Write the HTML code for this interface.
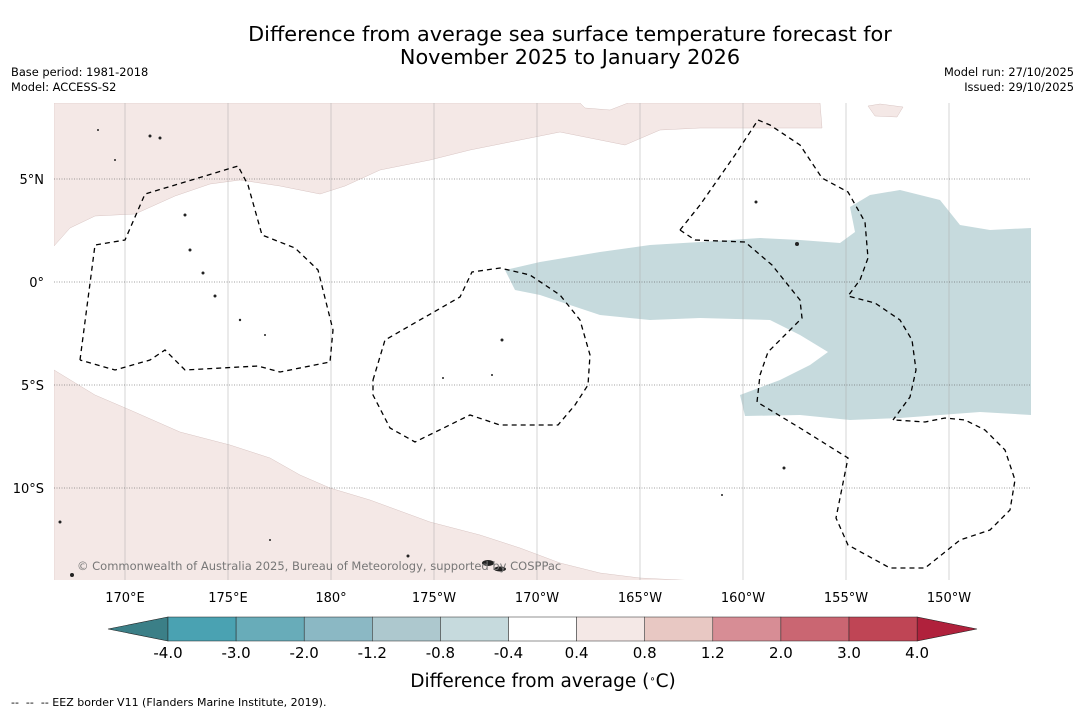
<!DOCTYPE html>
<html><head><meta charset="utf-8"><style>
body{margin:0;background:#fff;font-family:"Liberation Sans",sans-serif;}
svg text{font-family:"DejaVu Sans","Liberation Sans",sans-serif;}
</style></head><body>
<svg id="chart" width="1085" height="713" xmlns="http://www.w3.org/2000/svg">
<rect width="1085" height="713" fill="#fff"/>
<text x="570" y="41" font-size="20.8" text-anchor="middle">Difference from average sea surface temperature forecast for</text>
<text x="570" y="64" font-size="20.8" text-anchor="middle">November 2025 to January 2026</text>
<text x="11" y="76" font-size="11.4">Base period: 1981-2018</text>
<text x="11" y="91" font-size="11.4">Model: ACCESS-S2</text>
<text x="1074" y="76" font-size="11.4" text-anchor="end">Model run: 27/10/2025</text>
<text x="1074" y="91" font-size="11.4" text-anchor="end">Issued: 29/10/2025</text>
<g id="map">
<clipPath id="mc"><rect x="54" y="103" width="977" height="477"/></clipPath>
<g clip-path="url(#mc)">
<path fill="#f4e8e6" stroke="#d8c4c2" stroke-width="0.5" d="M54,103 L580,103 L585,108 L610,110 L628,103 L820,103 L822,128 L780,128 L700,128 L660,130 L625,145 L560,132 L520,140 L470,150 L430,160 L380,170 L345,186 L320,194 L280,186 L240,180 L210,184 L175,196 L135,214 L95,216 L70,228 L54,246 Z"/>
<path fill="#f4e8e6" stroke="#d8c4c2" stroke-width="0.5" d="M868,106 L880,104 L903,107 L897,117 L875,116 Z"/>
<path fill="#f4e8e6" stroke="#d8c4c2" stroke-width="0.5" d="M54,370 L95,395 L130,410 L180,432 L230,445 L270,458 L300,475 L330,488 L370,500 L430,522 L480,535 L520,548 L560,563 L600,573 L640,578 L700,581 L54,581 Z"/>
<path fill="#c6dadd" d="M505,270 L540,262 L600,252 L650,245 L700,242 L760,238 L800,240 L840,243 L855,232 L850,207 L870,195 L900,190 L940,200 L960,225 L990,230 L1031,228 L1031,415 L980,412 L900,418 L850,420 L800,415 L745,416 L740,395 L780,380 L810,365 L828,352 L800,335 L770,320 L700,318 L650,320 L600,315 L570,305 L540,295 L515,290 Z"/>
</g>
<g id="grid"></g>
<g fill="none" stroke="#000" stroke-width="1.3" stroke-dasharray="5,4">
<polyline points="80,360 95,245 125,240 145,194 185,182 238,166 248,185 262,235 295,248 318,270 328,310 333,330 330,362 280,372 258,366 185,370 165,350 150,360 115,370 80,360"/>
<polyline points="373,380 385,340 460,297 472,272 500,268 530,275 560,295 580,320 590,355 588,385 575,405 558,425 500,425 470,415 415,442 390,428 373,395 373,380"/>
<polyline points="680,230 700,205 735,155 758,120 770,125 800,145 822,178 848,192 865,222 868,258 860,280 848,296 875,303 900,320 912,340 916,370 910,397 893,420"/>
<polyline points="680,230 695,240 745,242 772,265 800,300 802,318 785,335 768,352 760,375 757,402 800,428 848,458 836,518 848,545 890,568 925,568 960,540 990,530 1010,510 1015,480 1005,450 985,430 965,420 945,418 925,422 895,420"/>
</g>
<g fill="#222">
<circle cx="150" cy="136" r="1.5"/><circle cx="160" cy="138" r="1.5"/><circle cx="98" cy="130" r="1"/><circle cx="115" cy="160" r="1"/><circle cx="185" cy="215" r="1.5"/><circle cx="190" cy="250" r="1.5"/><circle cx="203" cy="273" r="1.5"/><circle cx="215" cy="296" r="1.5"/><circle cx="240" cy="320" r="1.2"/><circle cx="265" cy="335" r="1"/><circle cx="502" cy="340" r="1.5"/><circle cx="492" cy="375" r="1"/><circle cx="443" cy="378" r="1"/><circle cx="756" cy="202" r="1.5"/><circle cx="797" cy="244" r="2"/><circle cx="784" cy="468" r="1.5"/><circle cx="722" cy="495" r="1"/><circle cx="60" cy="522" r="1.5"/><circle cx="72" cy="575" r="2"/><ellipse cx="488" cy="563" rx="6" ry="3"/><ellipse cx="500" cy="569" rx="6" ry="2.5"/><circle cx="270" cy="540" r="1"/><circle cx="408" cy="556" r="1.5"/></g>
<text x="77" y="570" font-size="11.5" fill="#777">© Commonwealth of Australia 2025, Bureau of Meteorology, supported by COSPPac</text>
<g id="axes"></g>
</g>
<g id="cbar"></g>
<text x="543" y="687" font-size="18.5" text-anchor="middle">Difference from average (<tspan baseline-shift="super" font-size="10">∘</tspan>C)</text>
<text x="11" y="706" font-size="11" xml:space="preserve" style="white-space:pre">--  --  -- EEZ border V11 (Flanders Marine Institute, 2019).</text>
</svg>
<script>
const lonLabels=["170°E","175°E","180°","175°W","170°W","165°W","160°W","155°W","150°W"];
const lonValues=[170,175,180,185,190,195,200,205,210];
const latLabels=["5°N","0°","5°S","10°S"];
const latValues=[5,0,-5,-10];
const levelLabels=["-4.0","-3.0","-2.0","-1.2","-0.8","-0.4","0.4","0.8","1.2","2.0","3.0","4.0"];
const binColors=["#4aa2b2","#68acb9","#8bb8c4","#adc8ce","#c6dadd","#ffffff","#f4e8e6","#e8c8c3","#d78d95","#ca6672","#bf4555"];
const extColors=["#3b7f87","#b0213c"];
const NS="http://www.w3.org/2000/svg";
const xLon=l=>125+(l-170)*20.6;
const yLat=a=>282-a*20.6;
function mk(t,a,p){const e=document.createElementNS(NS,t);for(const k in a)e.setAttribute(k,a[k]);p.appendChild(e);return e;}
const grid=document.getElementById('grid'),axes=document.getElementById('axes');
lonValues.forEach((v,i)=>{
 const l=mk('line',{x1:xLon(v),x2:xLon(v),y1:103,y2:580,stroke:'#aaa','stroke-width':0.5},grid);
 
 
 const t=mk('text',{x:xLon(v),y:602,'font-size':13,'text-anchor':'middle'},axes);t.textContent=lonLabels[i];
 
 
});
latValues.forEach((v,i)=>{
 const l=mk('line',{x1:54,x2:1031,y1:yLat(v),y2:yLat(v),stroke:'#444','stroke-width':0.5,'stroke-dasharray':'1,1.5'},grid);
 
 
 const t=mk('text',{x:44,y:yLat(v)+5,'font-size':13,'text-anchor':'end'},axes);t.textContent=latLabels[i];
 
 
});
const cb=document.getElementById('cbar');
const cx=i=>168+i*68.1, y0=617,h=24;
let e=mk('polygon',{points:`108,${y0+h/2} ${cx(0)},${y0} ${cx(0)},${y0+h}`,fill:extColors[0],stroke:'#222','stroke-width':0.6},cb);


e=mk('polygon',{points:`977,${y0+h/2} ${cx(11)},${y0} ${cx(11)},${y0+h}`,fill:extColors[1],stroke:'#222','stroke-width':0.6},cb);


binColors.forEach((c,i)=>{
 const r=mk('rect',{x:cx(i),y:y0,width:68.1,height:h,fill:c,stroke:'#222','stroke-width':0.5},cb);
 
 
});
levelLabels.forEach((s,i)=>{
 const t=mk('text',{x:cx(i),y:658,'font-size':15,'text-anchor':'middle'},cb);t.textContent=s;
 
 
});
</script>
</body></html>
